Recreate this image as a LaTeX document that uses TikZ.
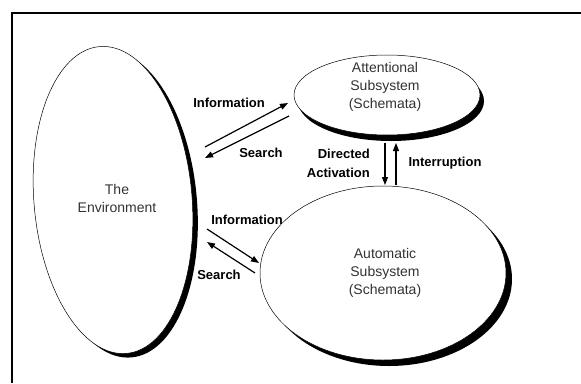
\documentclass[tikz,border=0pt]{standalone}
\usepackage{fontspec}
\setmainfont{Liberation Sans}
\usetikzlibrary{shapes.geometric,arrows.meta}
\begin{document}
\begin{tikzpicture}[x=1pt,y=-1pt,
  bubble/.style={ellipse, draw=black, line width=0.5pt, fill=white, inner sep=0pt},
  shadowfill/.style={ellipse, fill=black, inner sep=0pt},
  lbl/.style={font=\fontsize{13}{13}\selectfont\bfseries, inner sep=0pt},
  body/.style={font=\fontsize{14}{18}\selectfont, text=black!80, align=center, inner sep=0pt},
  arr/.style={line width=1.2pt, -{Triangle[length=8pt,width=6pt]}}]
\useasboundingbox (0,0) rectangle (581,383);
\draw[line width=2pt] (12,383) -- (12,13) -- (581,13);
% Environment
\node[shadowfill, minimum width=158pt, minimum height=308pt, rotate=5] (envsh) at (118,204) {};
\node[bubble, minimum width=158pt, minimum height=308pt, rotate=5] (env) at (113,200) {};
\node[body] (envtxt) at (117,198) {The\\Environment};
% Attentional
\node[shadowfill, minimum width=186pt, minimum height=80pt] (attsh) at (391,101) {};
\node[bubble, minimum width=186pt, minimum height=80pt] (att) at (387,95) {};
\node[body] (atttxt) at (385,87) {Attentional\\Subsystem\\(Schemata)};
% Automatic
\node[shadowfill, minimum width=246pt, minimum height=174pt] (autsh) at (389,279) {};
\node[bubble, minimum width=246pt, minimum height=174pt] (aut) at (383,273) {};
\node[body] (auttxt) at (385,273) {Automatic\\Subsystem\\(Schemata)};
% arrow end points
\coordinate (i1s) at (205,147); \coordinate (i1e) at (288,103);
\coordinate (s1s) at (289,116); \coordinate (s1e) at (205,158);
\coordinate (das) at (385,143); \coordinate (dae) at (385,185);
\coordinate (ins) at (396,185); \coordinate (ine) at (396,143);
\coordinate (i2s) at (207,229); \coordinate (i2e) at (259,263);
\coordinate (s2s) at (255,273); \coordinate (s2e) at (207,242);
\draw[arr] (i1s) -- (i1e);
\draw[arr] (s1s) -- (s1e);
\draw[arr] (das) -- (dae);
\draw[arr] (ins) -- (ine);
\draw[arr] (i2s) -- (i2e);
\draw[arr] (s2s) -- (s2e);
% labels
\node[lbl] (linfo1) at (229,103) {Information};
\node[lbl] (lsearch1) at (261,153) {Search};
\node[lbl, anchor=east] (ldir) at (370,154) {Directed};
\node[lbl, anchor=east] (lact) at (370,173) {Activation};
\node[lbl] (lint) at (445,163) {Interruption};
\node[lbl] (linfo2) at (247,220) {Information};
\node[lbl] (lsearch2) at (219,275) {Search};
\end{tikzpicture}
\end{document}
